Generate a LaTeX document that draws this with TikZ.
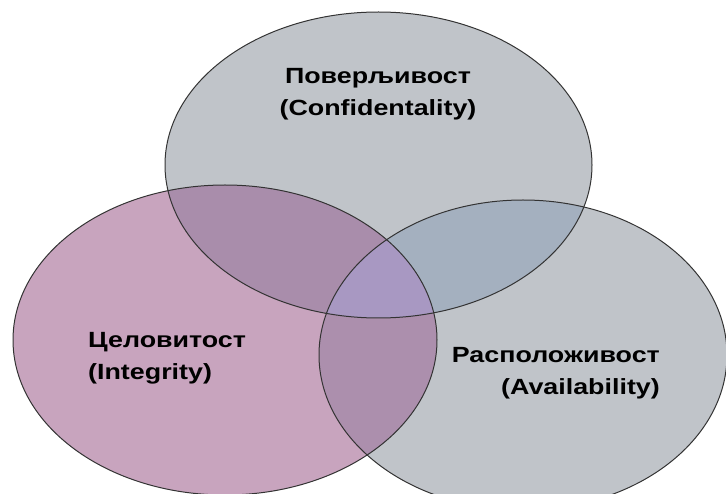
\documentclass[tikz,border=0pt]{standalone}
\usepackage{fontspec}
\usepackage{xcolor}
\newfontfamily\vennfont[FakeStretch=1.22]{Liberation Sans}

\definecolor{setgrey}{HTML}{C0C4C9}
\definecolor{setpink}{HTML}{C8A4BE}
\definecolor{cigrey}{HTML}{A98DAB}
\definecolor{cagrey}{HTML}{A4B0BF}
\definecolor{iagrey}{HTML}{AC8FAD}
\definecolor{ciagrey}{HTML}{A898C2}

% the three sets
\newcommand\confshape{(C) ellipse [x radius=213.5pt, y radius=153pt]}
\newcommand\intshape{(I) ellipse [x radius=212pt, y radius=155pt]}
\newcommand\availshape{(A) ellipse [x radius=204pt, y radius=155pt]}

\begin{document}
\begin{tikzpicture}[x=1pt,y=1pt,
	settext/.style={font=\vennfont\bfseries\fontsize{22}{32}\selectfont,inner sep=0pt},
	rim/.style={draw=black!80,line width=1pt}]
		\useasboundingbox (0,0) rectangle (726,493);
		\coordinate (C) at (378.5,328);
		\coordinate (I) at (225,153);
		\coordinate (A) at (523,138);
		%
		% plain fills
		\fill[setgrey] \confshape;
		\fill[setgrey] \availshape;
		\fill[setpink] \intshape;
		% overlaps
		\begin{scope}
			\clip \intshape;
			\fill[iagrey] \availshape;
		\end{scope}
		\begin{scope}
			\clip \confshape;
			\fill[cigrey] \intshape;
			\fill[cagrey] \availshape;
			\clip \intshape;
			\fill[ciagrey] \availshape;
		\end{scope}
		% outlines
		\draw[rim] \confshape;
		\draw[rim] \intshape;
		\draw[rim] \availshape;
		%
		\node[settext,anchor=north,align=center] (conf) at (378,425) {Поверљивост\\(Confidentality)};
		\node[settext,anchor=north west,align=left] (integ) at (88,161) {Целовитост\\(Integrity)};
		\node[settext,anchor=north east,align=right] (avail) at (660,146) {Расположивост\\(Availability)};
\end{tikzpicture}
\end{document}
